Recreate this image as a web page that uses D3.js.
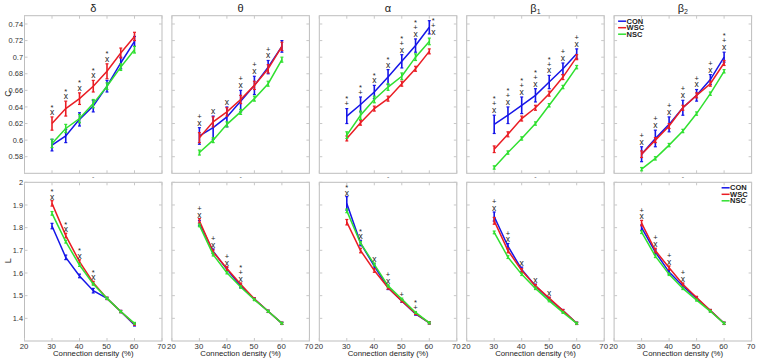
<!DOCTYPE html>
<html>
<head>
<meta charset="utf-8">
<title>C and L vs connection density</title>
<script src="https://d3js.org/d3.v7.min.js"></script>
<style>
  body { margin: 0; background: #fff; }
  text { font-family: "Liberation Sans", Arial, sans-serif; }
</style>
</head>
<body>
<div id="my_dataviz"></div>
<script>
// connection densities (%)
var densities = [30, 35, 40, 45, 50, 55, 60];
var bands = ["δ", "θ", "α", "β1", "β2"];
var groups = ["CON", "WSC", "NSC"];
var colors = ["#1515e8", "#ea1d24", "#30e030"];

// clustering coefficient C (one row per band: δ θ α β1 β2)
var cCON = [
  [0.594, 0.605, 0.625, 0.641, 0.665, 0.693, 0.719],
  [0.605, 0.615, 0.628, 0.647, 0.666, 0.688, 0.713],
  [0.629, 0.643, 0.658, 0.676, 0.695, 0.714, 0.736],
  [0.619, 0.630, 0.642, 0.654, 0.670, 0.686, 0.704],
  [0.583, 0.602, 0.619, 0.639, 0.654, 0.673, 0.700]
];
var cWSC = [
  [0.620, 0.638, 0.650, 0.665, 0.683, 0.705, 0.725],
  [0.603, 0.622, 0.634, 0.649, 0.666, 0.686, 0.713],
  [0.602, 0.621, 0.638, 0.650, 0.668, 0.686, 0.707],
  [0.589, 0.607, 0.626, 0.639, 0.656, 0.676, 0.700],
  [0.583, 0.600, 0.617, 0.639, 0.654, 0.668, 0.693]
];
var cNSC = [
  [0.596, 0.614, 0.626, 0.644, 0.665, 0.688, 0.709],
  [0.585, 0.600, 0.619, 0.634, 0.650, 0.668, 0.697],
  [0.606, 0.630, 0.649, 0.664, 0.677, 0.700, 0.719],
  [0.567, 0.585, 0.602, 0.620, 0.642, 0.664, 0.688],
  [0.565, 0.578, 0.594, 0.611, 0.632, 0.656, 0.683]
];
var cCONerr = [
  [0.007, 0.008, 0.008, 0.007, 0.007, 0.007, 0.006],
  [0.010, 0.014, 0.012, 0.013, 0.011, 0.008, 0.007],
  [0.009, 0.009, 0.008, 0.009, 0.008, 0.008, 0.008],
  [0.011, 0.010, 0.010, 0.008, 0.008, 0.007, 0.006],
  [0.009, 0.010, 0.009, 0.009, 0.007, 0.006, 0.006]
];
var cWSCerr = [
  [0.008, 0.009, 0.007, 0.007, 0.009, 0.006, 0.005],
  [0.006, 0.006, 0.005, 0.005, 0.005, 0.005, 0.005],
  [0.003, 0.003, 0.003, 0.003, 0.003, 0.003, 0.003],
  [0.004, 0.003, 0.003, 0.003, 0.003, 0.003, 0.003],
  [0.004, 0.003, 0.003, 0.003, 0.003, 0.003, 0.003]
];
var cNSCerr = [
  [0.005, 0.005, 0.005, 0.005, 0.004, 0.004, 0.004],
  [0.003, 0.003, 0.003, 0.003, 0.003, 0.003, 0.003],
  [0.004, 0.005, 0.004, 0.004, 0.004, 0.004, 0.004],
  [0.002, 0.002, 0.002, 0.002, 0.002, 0.002, 0.002],
  [0.002, 0.002, 0.002, 0.002, 0.002, 0.002, 0.002]
];

// characteristic path length L
var lCON = [
  [1.807, 1.669, 1.587, 1.522, 1.488, 1.430, 1.371],
  [1.820, 1.696, 1.616, 1.543, 1.485, 1.431, 1.378],
  [1.907, 1.732, 1.630, 1.535, 1.477, 1.419, 1.380],
  [1.849, 1.718, 1.616, 1.543, 1.485, 1.434, 1.378],
  [1.800, 1.692, 1.604, 1.543, 1.488, 1.434, 1.378]
];
var lWSC = [
  [1.907, 1.765, 1.650, 1.557, 1.488, 1.430, 1.375],
  [1.830, 1.693, 1.620, 1.550, 1.485, 1.431, 1.378],
  [1.824, 1.699, 1.611, 1.535, 1.477, 1.422, 1.380],
  [1.830, 1.699, 1.611, 1.543, 1.489, 1.434, 1.378],
  [1.820, 1.699, 1.623, 1.550, 1.492, 1.434, 1.378]
];
var lNSC = [
  [1.863, 1.738, 1.635, 1.551, 1.488, 1.430, 1.378],
  [1.810, 1.681, 1.601, 1.538, 1.482, 1.431, 1.378],
  [1.874, 1.732, 1.638, 1.543, 1.485, 1.426, 1.380],
  [1.779, 1.670, 1.594, 1.532, 1.477, 1.426, 1.378],
  [1.780, 1.674, 1.594, 1.532, 1.480, 1.431, 1.378]
];
var lCONerr = [
  [0.012, 0.010, 0.008, 0.010, 0.005, 0.005, 0.005],
  [0.012, 0.010, 0.008, 0.008, 0.005, 0.005, 0.005],
  [0.030, 0.012, 0.010, 0.008, 0.006, 0.005, 0.005],
  [0.020, 0.012, 0.010, 0.008, 0.006, 0.005, 0.005],
  [0.012, 0.010, 0.010, 0.008, 0.006, 0.005, 0.005]
];
var lWSCerr = [
  [0.012, 0.010, 0.008, 0.006, 0.005, 0.005, 0.005],
  [0.010, 0.008, 0.008, 0.006, 0.005, 0.005, 0.005],
  [0.012, 0.010, 0.008, 0.006, 0.005, 0.005, 0.005],
  [0.015, 0.010, 0.008, 0.006, 0.005, 0.005, 0.005],
  [0.012, 0.010, 0.008, 0.006, 0.005, 0.005, 0.005]
];
var lNSCerr = [
  [0.008, 0.006, 0.006, 0.005, 0.004, 0.004, 0.004],
  [0.006, 0.006, 0.005, 0.005, 0.004, 0.004, 0.004],
  [0.008, 0.006, 0.006, 0.005, 0.004, 0.004, 0.004],
  [0.006, 0.006, 0.005, 0.005, 0.004, 0.004, 0.004],
  [0.006, 0.006, 0.005, 0.005, 0.004, 0.004, 0.004]
];

// significance marks above each density, listed bottom to top
var cMarks = [
  ["x*", "x*", "x*", "x*", "x*", "", ""],
  ["x+", "x", "x", "x+", "x+", "x+", ""],
  ["+*", "+*", "x*", "x*", "x+*", "x+*", "x+*"],
  ["x+*", "x+*", "x+*", "x+*", "x+*", "x+", "x+"],
  ["x+", "x+", "x+", "x+", "x+", "x+", "x+*"]
];
var lMarks = [
  ["x*", "x*", "x*", "x*", "", "", ""],
  ["x+", "x+", "x+", "x+*", "", "", ""],
  ["x*", "x*", "x", "x+", "+", "+*", ""],
  ["x+", "x+", "x", "x", "x", "", ""],
  ["x+", "x+", "x+", "x+", "", "", ""]
];

var xTicks = [20, 30, 40, 50, 60, 70];
var cTicks = [0.58, 0.60, 0.62, 0.64, 0.66, 0.68, 0.70, 0.72, 0.74];
var lTicks = [1.4, 1.5, 1.6, 1.7, 1.8, 1.9, 2.0];

// layout
var width = 757, height = 358;
var panelW = 137.5, step = 147.4, left0 = 24.5;
var rows = [
  { top: 15.7, bottom: 173.3, domain: [0.56, 0.75], ticks: cTicks,
    fmt: function(d) { return String(+d.toFixed(2)); },
    series: [cCON, cWSC, cNSC], errs: [cCONerr, cWSCerr, cNSCerr], marks: cMarks,
    label: "C", gap: 5, legend: "topleft" },
  { top: 182.3, bottom: 341, domain: [1.3, 2.0], ticks: lTicks,
    fmt: function(d) { return String(+d.toFixed(1)); },
    series: [lCON, lWSC, lNSC], errs: [lCONerr, lWSCerr, lNSCerr], marks: lMarks,
    label: "L", gap: 4, legend: "topright" }
];

var svg = d3.select("#my_dataviz")
  .append("svg")
    .attr("width", width)
    .attr("height", height);

rows.forEach(function(row, r) {
  var y = d3.scaleLinear().domain(row.domain).range([row.bottom, row.top]);

  bands.forEach(function(band, b) {
    var x0 = left0 + b * step;
    var x = d3.scaleLinear().domain([20, 70]).range([x0, x0 + panelW]);
    var g = svg.append("g");

    // frame
    g.append("rect")
      .attr("x", x0).attr("y", row.top)
      .attr("width", panelW).attr("height", row.bottom - row.top)
      .attr("fill", "none").attr("stroke", "#bdbdbd").attr("stroke-width", 1);

    // inward ticks on all four sides
    xTicks.forEach(function(t) {
      g.append("line").attr("x1", x(t)).attr("x2", x(t))
        .attr("y1", row.bottom).attr("y2", row.bottom - 3).attr("stroke", "#c8c8c8");
      g.append("line").attr("x1", x(t)).attr("x2", x(t))
        .attr("y1", row.top).attr("y2", row.top + 3).attr("stroke", "#c8c8c8");
    });
    row.ticks.forEach(function(t) {
      g.append("line").attr("x1", x0).attr("x2", x0 + 3)
        .attr("y1", y(t)).attr("y2", y(t)).attr("stroke", "#c8c8c8");
      g.append("line").attr("x1", x0 + panelW).attr("x2", x0 + panelW - 3)
        .attr("y1", y(t)).attr("y2", y(t)).attr("stroke", "#c8c8c8");
    });

    // tick labels
    if (b === 0) {
      row.ticks.forEach(function(t) {
        g.append("text").attr("x", x0 - 1.5).attr("y", y(t)).attr("dy", "0.35em")
          .attr("text-anchor", "end").attr("font-size", 7.4).attr("fill", "#333")
          .text(row.fmt(t));
      });
      g.append("text")
        .attr("transform", "translate(10.5," + ((row.top + row.bottom) / 2 - 1) + ") rotate(-90)")
        .attr("text-anchor", "middle").attr("font-size", 9).attr("fill", "#222")
        .text(row.label);
    }
    if (r === 1) {
      xTicks.forEach(function(t) {
        g.append("text").attr("x", x(t) - 0.5).attr("y", row.bottom + 5).attr("dy", "0.35em")
          .attr("text-anchor", "middle").attr("font-size", 7.8).attr("fill", "#333")
          .text(t);
      });
      g.append("text").attr("x", x0 + panelW / 2).attr("y", row.bottom + 12.2).attr("dy", "0.35em")
        .attr("text-anchor", "middle").attr("font-size", 7.8).attr("fill", "#222")
        .text("Connection density (%)");
      g.append("text").attr("x", x0 + panelW / 2).attr("y", row.top - 3)
        .attr("text-anchor", "middle").attr("font-size", 7).attr("fill", "#666")
        .text("-");
    } else {
      var title = g.append("text").attr("x", x0 + panelW / 2).attr("y", row.top - 4)
        .attr("text-anchor", "middle").attr("font-size", 11).attr("fill", "#222");
      title.append("tspan").text(band.charAt(0));
      if (band.length > 1) {
        title.append("tspan").attr("font-size", 7).attr("dy", 2).text(band.slice(1));
      }
    }

    // series: error bars and lines
    var line = d3.line()
      .x(function(d) { return x(d[0]); })
      .y(function(d) { return y(d[1]); });

    row.series.forEach(function(s, k) {
      var vals = s[b], errs = row.errs[k][b];
      var pts = densities.map(function(d, i) { return [d, vals[i], errs[i]]; });
      var sg = g.append("g").attr("stroke", colors[k]).attr("fill", "none");
      pts.forEach(function(p) {
        var px = x(p[0]);
        sg.append("line").attr("x1", px).attr("x2", px)
          .attr("y1", y(p[1] - p[2])).attr("y2", y(p[1] + p[2])).attr("stroke-width", 1.6);
        sg.append("line").attr("x1", px - 1.5).attr("x2", px + 1.5)
          .attr("y1", y(p[1] - p[2])).attr("y2", y(p[1] - p[2])).attr("stroke-width", 1.2);
        sg.append("line").attr("x1", px - 1.5).attr("x2", px + 1.5)
          .attr("y1", y(p[1] + p[2])).attr("y2", y(p[1] + p[2])).attr("stroke-width", 1.2);
      });
      sg.append("path").datum(pts).attr("d", line).attr("stroke-width", 1.5);
    });

    // significance marks stacked above the highest error bar
    var mstep = 6.5;
    densities.forEach(function(d, i) {
      var m = row.marks[b][i];
      if (!m) return;
      var topVal = d3.max(row.series, function(s, k) { return s[b][i] + row.errs[k][b][i]; });
      var base = y(topVal) - row.gap;
      var px = x(d);
      var highest = base - (m.length - 1) * mstep;
      if (highest < row.top + 3) {
        base += row.top + 3 - highest;
        px += 4;
      }
      m.split("").forEach(function(sym, j) {
        g.append("text").attr("x", px).attr("y", base - j * mstep - (sym === "*" ? -1.5 : 0))
          .attr("dy", "0.35em").attr("text-anchor", "middle")
          .attr("font-size", sym === "x" ? 8.5 : 7.5).attr("fill", "#222")
          .text(sym);
      });
    });

    // legend in the last column
    if (b === bands.length - 1) {
      var lx = row.legend === "topleft" ? x0 + 4 : x0 + panelW - 30;
      var ly = row.top + 5.5;
      groups.forEach(function(name, k) {
        g.append("line").attr("x1", lx).attr("x2", lx + 8)
          .attr("y1", ly + k * 6.5).attr("y2", ly + k * 6.5)
          .attr("stroke", colors[k]).attr("stroke-width", 1.5);
        g.append("text").attr("x", lx + 8.5).attr("y", ly + k * 6.5).attr("dy", "0.35em")
          .attr("font-family", "Liberation Serif, serif").attr("font-weight", "bold")
          .attr("font-size", 7.5).attr("fill", "#222")
          .text(name);
      });
    }
  });
});
</script>
</body>
</html>
